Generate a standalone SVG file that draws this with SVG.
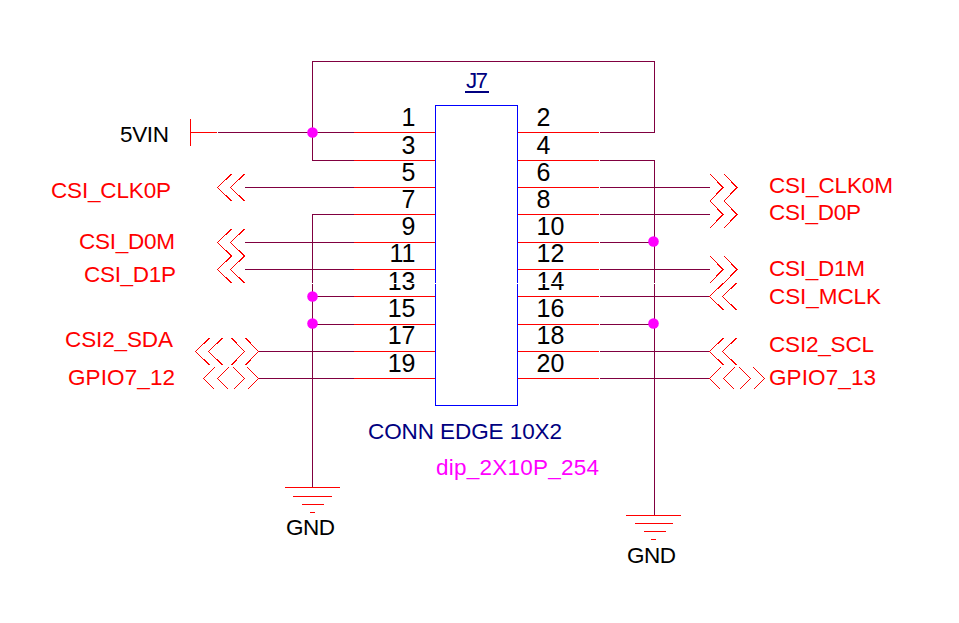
<svg xmlns="http://www.w3.org/2000/svg" xmlns:xlink="http://www.w3.org/1999/xlink" width="959" height="623" viewBox="0 0 959 623">
<style>
text{font-family:"Liberation Sans",Arial,sans-serif;font-size:22.5px}
.num{font-size:25px;fill:#000}
.odd{text-anchor:end}
.sig{fill:#f00}
.blk{fill:#000}
.navy{fill:#000080}
.mag{fill:#f0f}
.wire{fill:none;stroke:#800040;stroke-width:1;shape-rendering:crispEdges}
.pin{fill:none;stroke:#f00;stroke-width:1;shape-rendering:crispEdges}
.chev{fill:none;stroke:#f00;stroke-width:1;shape-rendering:crispEdges}
.body{fill:none;stroke:#00f;stroke-width:1;shape-rendering:crispEdges}
.dot{fill:#f0f}
</style>
<defs>
<path id="cl" class="chev" d="M14,-13.5L0,0L14,13.5M27,-13.5L13,0L27,13.5"/>
<path id="cr" class="chev" d="M-27,-13.5L-14,0L-27,13.5M-13,-13.5L0,0L-13,13.5"/>
<path id="sl" class="chev" d="M11,-11L0,0L11,11M25,-11L14,0L25,11"/>
<path id="sr" class="chev" d="M-25,-11L-14,0L-25,11M-11,-11L0,0L-11,11"/>
</defs>
<rect width="959" height="623" fill="#fff"/>
<g id="connectors">
<path class="wire" d="M354,132.5H218M312.5,132.5V61.5H654.5V132.5H600M354,160.5H312.5V132.5"/>
<path class="wire" d="M354,187.5H245M354,242.5H245M354,269.5H245M354,351.5H258M354,378.5H258"/>
<path class="wire" d="M354,214.5H312.5V487M354,296.5H312.5M354,324.5H312.5"/>
<path class="wire" d="M600,160.5H654.5V515M600,242.5H654.5M600,324.5H654.5"/>
<path class="wire" d="M600,187.5H710M600,214.5H710M600,269.5H710M600,296.5H710M600,351.5H710M600,378.5H710"/>
<circle class="dot" cx="312.5" cy="132.5" r="5.3"/>
<circle class="dot" cx="312.5" cy="296.5" r="5.3"/>
<circle class="dot" cx="312.5" cy="323.5" r="5.3"/>
<circle class="dot" cx="653.5" cy="241.5" r="5.3"/>
<circle class="dot" cx="653.5" cy="323.5" r="5.3"/>
</g>
<g id="J7">
<rect class="body" x="435.5" y="105.5" width="82" height="300"/>
<path class="pin" d="M354,132.5H435M354,160.5H435M354,187.5H435M354,214.5H435M354,242.5H435M354,269.5H435M354,296.5H435M354,324.5H435M354,351.5H435M354,378.5H435"/>
<path class="pin" d="M518,132.5H599M518,160.5H599M518,187.5H599M518,214.5H599M518,242.5H599M518,269.5H599M518,296.5H599M518,324.5H599M518,351.5H599M518,378.5H599"/>
<text class="navy" x="466" y="88" textLength="22">J7</text>
<rect x="465" y="91" width="24" height="2" fill="#000080"/>
<text class="num odd" x="415.5" y="126">1</text>
<text class="num odd" x="415.5" y="154">3</text>
<text class="num odd" x="415.5" y="181">5</text>
<text class="num odd" x="415.5" y="208">7</text>
<text class="num odd" x="415.5" y="235">9</text>
<text class="num odd" x="415.5" y="262">11</text>
<text class="num odd" x="415.5" y="290">13</text>
<text class="num odd" x="415.5" y="317">15</text>
<text class="num odd" x="415.5" y="344">17</text>
<text class="num odd" x="415.5" y="372">19</text>
<text class="num" x="536.5" y="126">2</text>
<text class="num" x="536.5" y="154">4</text>
<text class="num" x="536.5" y="181">6</text>
<text class="num" x="536.5" y="208">8</text>
<text class="num" x="536.5" y="235">10</text>
<text class="num" x="536.5" y="262">12</text>
<text class="num" x="536.5" y="290">14</text>
<text class="num" x="536.5" y="317">16</text>
<text class="num" x="536.5" y="344">18</text>
<text class="num" x="536.5" y="372">20</text>
<text class="navy" x="368" y="439" textLength="194">CONN EDGE 10X2</text>
<text class="mag" x="436" y="475" textLength="163">dip_2X10P_254</text>
</g>
<g id="port-5VIN">
<path class="pin" d="M190.5,119V146M190.5,132.5H217"/>
<text class="blk" x="120" y="142" textLength="49">5VIN</text>
</g>
<g id="port-CSI_CLK0P"><use xlink:href="#cl" href="#cl" x="217.5" y="187.5"/><text class="sig" x="51" y="198" textLength="120">CSI_CLK0P</text></g>
<g id="port-CSI_D0M"><use xlink:href="#cl" href="#cl" x="217.5" y="242.5"/><text class="sig" x="79" y="249" textLength="96">CSI_D0M</text></g>
<g id="port-CSI_D1P"><use xlink:href="#cl" href="#cl" x="217.5" y="269.5"/><text class="sig" x="84" y="282" textLength="92">CSI_D1P</text></g>
<g id="port-CSI2_SDA"><use xlink:href="#cl" href="#cl" x="195.5" y="351.5"/><use xlink:href="#cr" href="#cr" x="258.5" y="351.5"/><text class="sig" x="65" y="347" textLength="108">CSI2_SDA</text></g>
<g id="port-GPIO7_12"><use xlink:href="#sl" href="#sl" x="203.5" y="378.5"/><use xlink:href="#sr" href="#sr" x="258.5" y="378.5"/><text class="sig" x="68" y="385" textLength="107">GPIO7_12</text></g>
<g id="port-CSI_CLK0M"><use xlink:href="#cr" href="#cr" x="737" y="187.5"/><text class="sig" x="769" y="193" textLength="124">CSI_CLK0M</text></g>
<g id="port-CSI_D0P"><use xlink:href="#cr" href="#cr" x="737" y="214.5"/><text class="sig" x="769" y="220" textLength="92">CSI_D0P</text></g>
<g id="port-CSI_D1M"><use xlink:href="#cr" href="#cr" x="737" y="269.5"/><text class="sig" x="769" y="276" textLength="96">CSI_D1M</text></g>
<g id="port-CSI_MCLK"><use xlink:href="#cl" href="#cl" x="709.5" y="296.5"/><text class="sig" x="769" y="304" textLength="112">CSI_MCLK</text></g>
<g id="port-CSI2_SCL"><use xlink:href="#cl" href="#cl" x="709.5" y="351.5"/><text class="sig" x="769" y="352" textLength="105">CSI2_SCL</text></g>
<g id="port-GPIO7_13"><use xlink:href="#sl" href="#sl" x="709.5" y="378.5"/><use xlink:href="#sr" href="#sr" x="764.5" y="378.5"/><text class="sig" x="769" y="385" textLength="107">GPIO7_13</text></g>
<g id="gnd-left">
<path class="pin" d="M285,487.5H340M293,496.5H332M302,504.5H324M310,512.5H315"/>
<text class="blk" x="286" y="535" textLength="49">GND</text>
</g>
<g id="gnd-right">
<path class="pin" d="M626,515.5H681M635,523.5H673M644,531.5H666M651,539.5H656"/>
<text class="blk" x="627" y="563" textLength="49">GND</text>
</g>
<rect x="300" y="283" width="370" height="1" fill="#fff"/>
</svg>
